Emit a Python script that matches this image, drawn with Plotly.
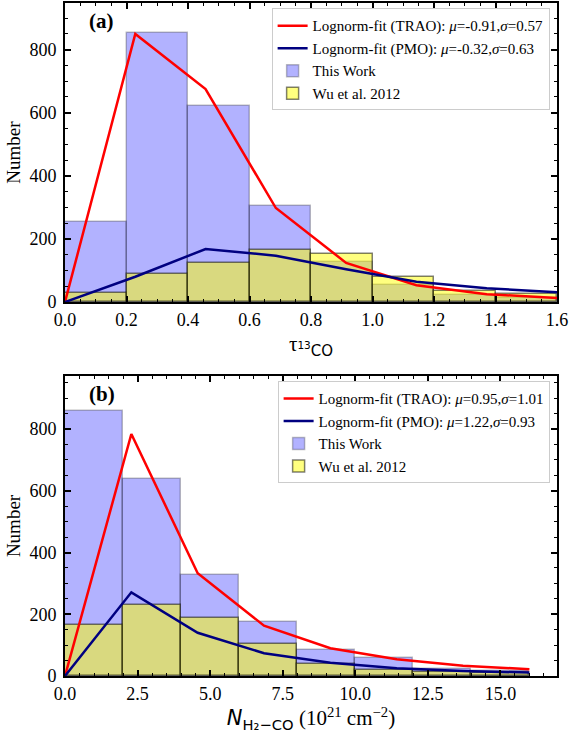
import plotly.graph_objects as go
from plotly.subplots import make_subplots

# ---- Panel (a): tau_13CO ----
tau_edges = [0.0, 0.2, 0.4, 0.6, 0.8, 1.0, 1.2, 1.4]
tau_this_work = [255, 852, 620, 305, 128, 55, 21, 13]
tau_wu2012 = [29, 90, 124, 165, 153, 78, 36, 27]
tau_fit_x = [0.0, 0.2286, 0.4571, 0.6857, 0.9143, 1.1429, 1.3714, 1.6]
tau_fit_trao = [0, 850, 675, 298, 124, 53, 25, 13]
tau_fit_pmo = [0, 80, 168, 147, 104, 64, 44, 31]

# ---- Panel (b): N_H2-CO ----
n_edges = [0, 2, 4, 6, 8, 10, 12, 14]
n_this_work = [860, 639, 328, 174, 84, 58, 22, 15]
n_wu2012 = [164, 231, 189, 105, 38, 18, 12, 9]
n_fit_x = [0.0, 2.2857, 4.5714, 6.8571, 9.1429, 11.4286, 13.7143, 16.0]
n_fit_trao = [0, 784, 333, 163, 90, 54, 33, 22]
n_fit_pmo = [0, 271, 140, 74, 43, 25, 16, 11]

labels_a = ["Lognorm-fit (TRAO): <i>μ</i>=-0.91,<i>σ</i>=0.57",
            "Lognorm-fit (PMO): <i>μ</i>=-0.32,<i>σ</i>=0.63"]
labels_b = ["Lognorm-fit (TRAO): <i>μ</i>=0.95,<i>σ</i>=1.01",
            "Lognorm-fit (PMO): <i>μ</i>=1.22,<i>σ</i>=0.93"]

FONT = "Liberation Serif"
BLUE_FILL = "rgba(0,0,255,0.30)"
BLUE_EDGE = "rgba(0,0,0,0.25)"
YEL_FILL = "rgba(255,255,0,0.50)"
YEL_EDGE = "rgba(0,0,0,0.50)"

fig = make_subplots(rows=2, cols=1, vertical_spacing=0.1)

def add_panel(row, edges, width, this_work, wu, fx, trao, pmo, labels, legend):
    fig.add_trace(go.Bar(x=edges, y=this_work, width=width, offset=0,
                         marker=dict(color=BLUE_FILL, line=dict(color=BLUE_EDGE, width=1.5)),
                         name="This Work", legend=legend, legendrank=3), row=row, col=1)
    fig.add_trace(go.Bar(x=edges, y=wu, width=width, offset=0,
                         marker=dict(color=YEL_FILL, line=dict(color=YEL_EDGE, width=1.5)),
                         name="Wu et al. 2012", legend=legend, legendrank=4), row=row, col=1)
    fig.add_trace(go.Scatter(x=fx, y=trao, mode="lines", line=dict(color="red", width=2.5),
                             name=labels[0], legend=legend, legendrank=1), row=row, col=1)
    fig.add_trace(go.Scatter(x=fx, y=pmo, mode="lines", line=dict(color="navy", width=2.5),
                             name=labels[1], legend=legend, legendrank=2), row=row, col=1)

add_panel(1, tau_edges, 0.2, tau_this_work, tau_wu2012, tau_fit_x, tau_fit_trao, tau_fit_pmo, labels_a, "legend")
add_panel(2, n_edges, 2, n_this_work, n_wu2012, n_fit_x, n_fit_trao, n_fit_pmo, labels_b, "legend2")

top_dom = [0.5557, 1.0]
bot_dom = [0.0, 0.4458]

axis_common = dict(showline=True, linecolor="black", linewidth=2, mirror="allticks",
                   ticks="inside", ticklen=6, tickwidth=1.5, tickcolor="black",
                   showgrid=False, zeroline=False, automargin=False,
                   tickfont=dict(family=FONT, size=18, color="black"))
minor_common = dict(ticks="inside", ticklen=3, tickwidth=1, tickcolor="black")

fig.update_xaxes(**axis_common)
fig.update_yaxes(**axis_common, ticklabelstandoff=3)

title_font = dict(family=FONT, size=19, color="black")
fig.update_xaxes(row=1, col=1, range=[0, 1.6], dtick=0.2, tick0=0, tickformat=".1f",
                 minor=dict(dtick=0.05, **minor_common),
                 title=dict(text="τ<sub><span style='font-family:DejaVu Sans;font-size:15px'><sup>13</sup>CO</span></sub>",
                            font=dict(family=FONT, size=21, color="black"), standoff=8))
fig.update_yaxes(row=1, col=1, range=[0, 948], dtick=200, domain=top_dom,
                 minor=dict(dtick=50, **minor_common),
                 title=dict(text="Number", font=title_font, standoff=4))
fig.update_xaxes(row=2, col=1, range=[0, 16.95], dtick=2.5, tick0=0, tickformat=".1f",
                 minor=dict(dtick=0.5, **minor_common),
                 title=dict(text="<span style='font-family:DejaVu Sans'><i>N</i></span><sub><span style='font-family:DejaVu Sans'>H₂−CO</span></sub> (10<sup>21</sup> cm<sup>−2</sup>)",
                            font=dict(family=FONT, size=21, color="black"), standoff=7))
fig.update_yaxes(row=2, col=1, range=[0, 972], dtick=200, domain=bot_dom,
                 minor=dict(dtick=50, **minor_common),
                 title=dict(text="Number", font=title_font, standoff=4))

legend_style = dict(xanchor="right", yanchor="top", bgcolor="white",
                    bordercolor="#cccccc", borderwidth=1,
                    font=dict(family=FONT, size=15, color="black"),
                    tracegroupgap=0, itemwidth=30, traceorder="normal")
fig.update_layout(
    width=570, height=737,
    margin=dict(l=65, r=13, t=3, b=61),
    plot_bgcolor="white", paper_bgcolor="white",
    barmode="overlay", bargap=0,
    font=dict(family=FONT, color="black"),
    legend=dict(x=0.985, y=top_dom[1] - 0.008, xref="paper", yref="paper", **legend_style),
    legend2=dict(x=0.985, y=bot_dom[1] - 0.008, xref="paper", yref="paper", **legend_style),
)

fig.add_annotation(text="<b>(a)</b>", xref="x domain", yref="y domain", x=0.045, y=0.985,
                   xanchor="left", yanchor="top", showarrow=False,
                   font=dict(family=FONT, size=21, color="black"))
fig.add_annotation(text="<b>(b)</b>", xref="x2 domain", yref="y2 domain", x=0.045, y=0.985,
                   xanchor="left", yanchor="top", showarrow=False,
                   font=dict(family=FONT, size=21, color="black"))

fig.write_html("out.html", config={"displayModeBar": False},
               post_script="document.body.style.margin='0';")
